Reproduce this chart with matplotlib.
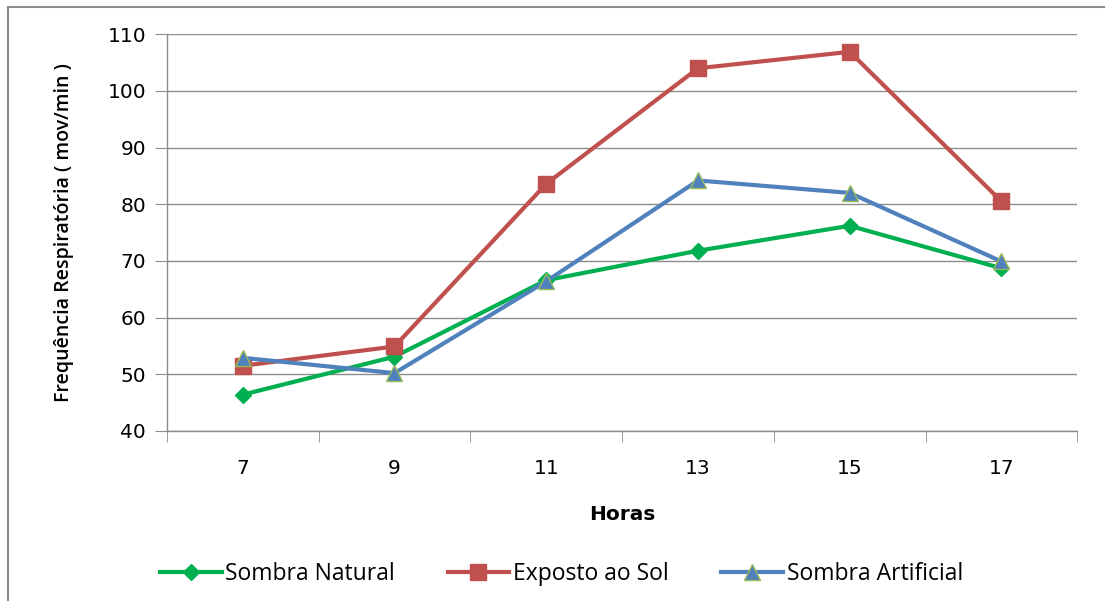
import matplotlib.pyplot as plt
from matplotlib.patches import Rectangle

# dados
horas = ['7', '9', '11', '13', '15', '17']
sombra_natural = [46.4, 53.1, 66.6, 71.8, 76.2, 68.7]
exposto_sol = [51.5, 54.9, 83.6, 104.0, 106.9, 80.5]
sombra_artificial = [52.9, 50.2, 66.4, 84.2, 82.0, 69.9]

fig = plt.figure(figsize=(11.05, 6.01), dpi=100)
ax = fig.add_axes([0.151, 0.283, 0.824, 0.660])

# borda externa da área do gráfico (sem lado direito visível)
fig.patches.append(Rectangle((0.007, -0.02), 1.05, 1.008, transform=fig.transFigure,
                             fill=False, edgecolor='#8c8c8c', linewidth=1.5))

x = range(len(horas))
ax.plot(x, sombra_natural, color='#00b050', linewidth=3, marker='D', markersize=8,
        label='Sombra Natural', zorder=3)
ax.plot(x, exposto_sol, color='#c0504d', linewidth=3, marker='s', markersize=12,
        label='Exposto ao Sol', zorder=3)
ax.plot(x, sombra_artificial, color='#4f81bd', linewidth=3, marker='^', markersize=12,
        markeredgecolor='#9bbb59', markeredgewidth=1, label='Sombra Artificial', zorder=3)

ax.set_xlim(-0.5, len(horas) - 0.5)
ax.set_ylim(40, 110)
ax.set_yticks(range(40, 111, 10))
ax.set_xticks(list(x))
ax.set_xticklabels(horas)
ax.set_xticks([i - 0.5 for i in range(len(horas) + 1)], minor=True)

ax.grid(True, axis='y', color='#8c8c8c', linewidth=1)
ax.set_axisbelow(True)
for s in ['top', 'right']:
    ax.spines[s].set_visible(False)
for s in ['left', 'bottom']:
    ax.spines[s].set_color('#8c8c8c')
    ax.spines[s].set_linewidth(1)

ax.tick_params(axis='y', direction='out', length=9, color='#8c8c8c', labelsize=14.5, pad=6)
ax.tick_params(axis='x', which='major', length=0, labelsize=14.5, pad=20)
ax.tick_params(axis='x', which='minor', direction='out', length=8, color='#8c8c8c')

ax.set_xlabel('Horas', fontsize=14.5, fontweight='bold', labelpad=20)
ax.set_ylabel('Frequência Respiratória ( mov/min )', fontsize=14, family='Open Sans',
              fontweight='semibold', labelpad=24)

fig.legend(loc='center', bbox_to_anchor=(0.508, 0.045), ncol=3, frameon=False,
           prop={'family': 'Open Sans', 'size': 16.5}, handlelength=2.7, columnspacing=2.3,
           handletextpad=0.15)

fig.savefig('out.png', dpi=100)
